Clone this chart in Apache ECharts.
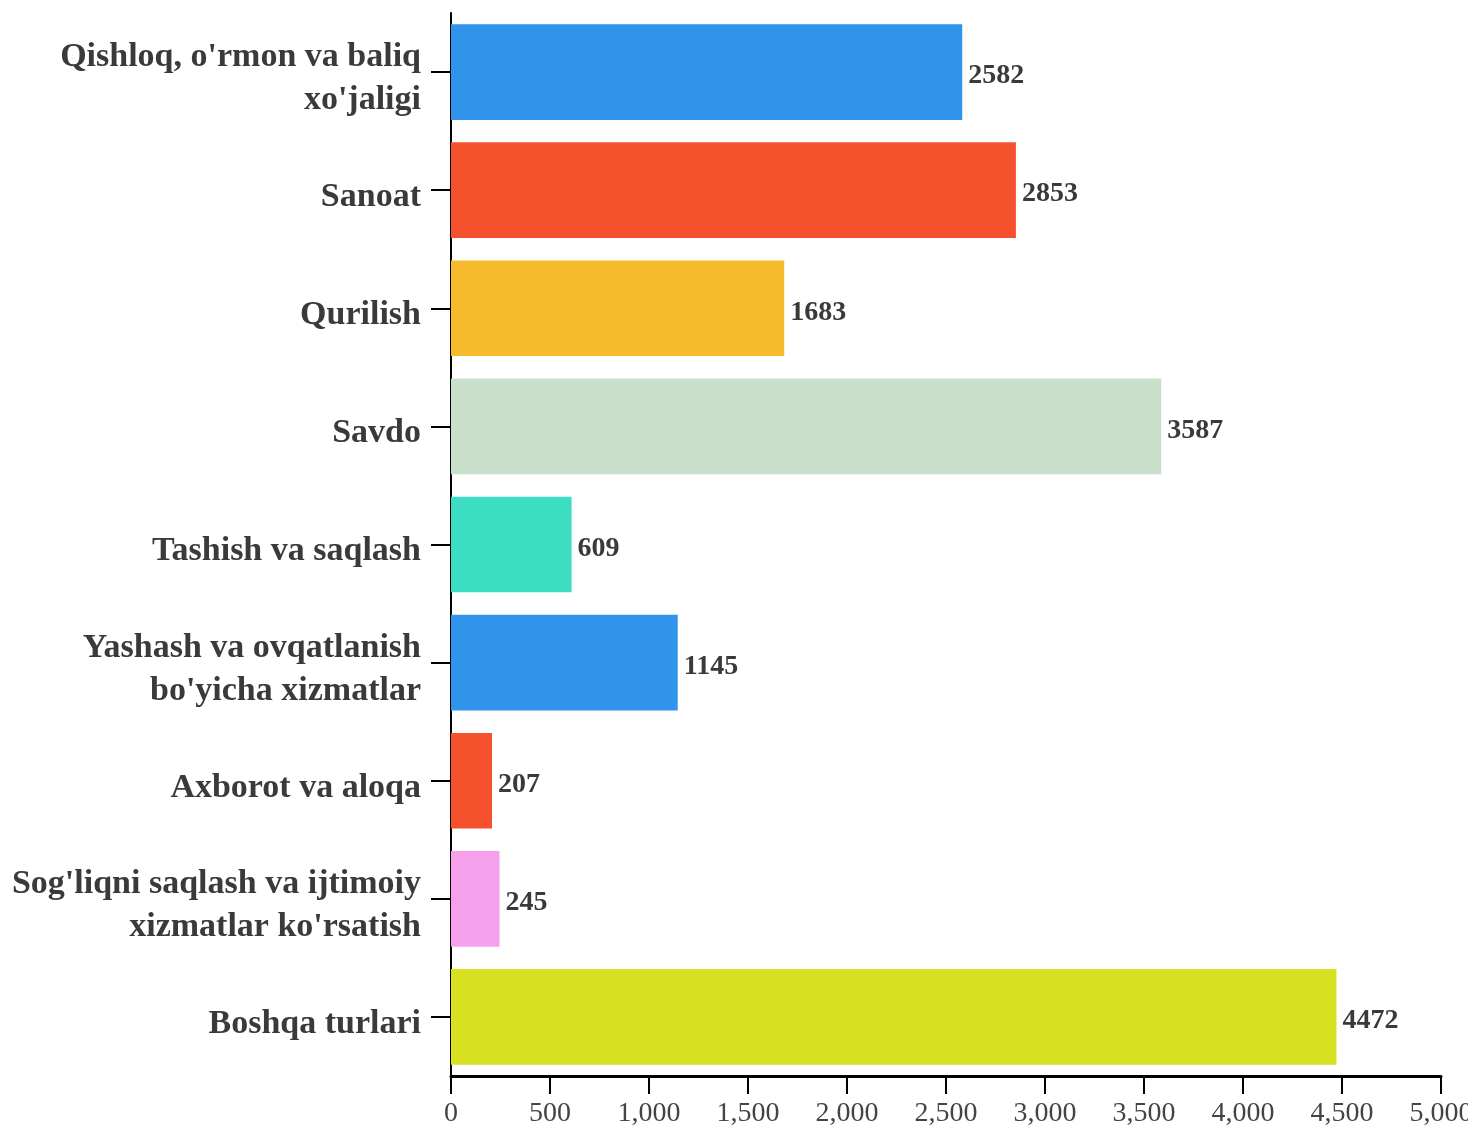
<!DOCTYPE html>
<html>
<head>
<meta charset="utf-8">
<script src="https://cdn.jsdelivr.net/npm/echarts@6/dist/echarts.min.js"></script>
<style>
  html, body { margin: 0; padding: 0; background: #fff; }
  #chart { width: 1468px; height: 1125px; }
</style>
</head>
<body>
<div id="chart"></div>
<script>
// Chart data
const categories = [
  "Qishloq, o'rmon va baliq\nxo'jaligi",
  "Sanoat",
  "Qurilish",
  "Savdo",
  "Tashish va saqlash",
  "Yashash va ovqatlanish\nbo'yicha xizmatlar",
  "Axborot va aloqa",
  "Sog'liqni saqlash va ijtimoiy\nxizmatlar ko'rsatish",
  "Boshqa turlari"
];
const values = [2582, 2853, 1683, 3587, 609, 1145, 207, 245, 4472];
const barColors = [
  "#3094EA", "#F5512D", "#F5BA2D", "#C8DFC9", "#3DDDC4",
  "#3094EA", "#F5512D", "#F4A0EC", "#D7E021"
];

const FONT = "'Liberation Serif', 'Times New Roman', serif";

const chart = echarts.init(document.getElementById("chart"));

chart.setOption({
  animation: false,
  grid: {
    left: 451,
    right: 27,
    top: 13,
    bottom: 49,
    containLabel: false,
    outerBoundsMode: "none"
  },
  xAxis: {
    type: "value",
    min: 0,
    max: 5000,
    interval: 500,
    axisLine: { show: true, lineStyle: { color: "#000", width: 3 } },
    axisTick: { show: true, length: 18, lineStyle: { color: "#000", width: 2 } },
    splitLine: { show: false },
    axisLabel: {
      color: "#444",
      fontFamily: FONT,
      fontSize: 28,
      margin: 24,
      formatter: (v) => v.toLocaleString("en-US")
    }
  },
  yAxis: {
    type: "category",
    inverse: true,
    data: categories,
    axisLine: { show: true, lineStyle: { color: "#000", width: 2 } },
    axisTick: { show: true, alignWithLabel: true, length: 20, lineStyle: { color: "#000", width: 2 } },
    axisLabel: {
      margin: 30,
      align: "right",
      // wrap every line in a rich token so the text sits a little below the tick
      formatter: (v) => v.split("\n").map((l) => "{t|" + l + "}").join("\n"),
      rich: {
        t: {
          color: "#3a3a3a",
          fontFamily: FONT,
          fontWeight: "bold",
          fontSize: 34,
          lineHeight: 43,
          padding: [14, 0, 0, 0]
        }
      }
    }
  },
  series: [
    {
      type: "bar",
      data: values.map((v, i) => ({ value: v, itemStyle: { color: barColors[i] } })),
      barCategoryGap: "19%",
      label: {
        show: true,
        position: "right",
        distance: 6,
        offset: [0, 4],
        color: "#3a3a3a",
        fontFamily: FONT,
        fontWeight: "bold",
        fontSize: 28
      }
    }
  ]
});

window.addEventListener("resize", () => chart.resize());
</script>
</body>
</html>
